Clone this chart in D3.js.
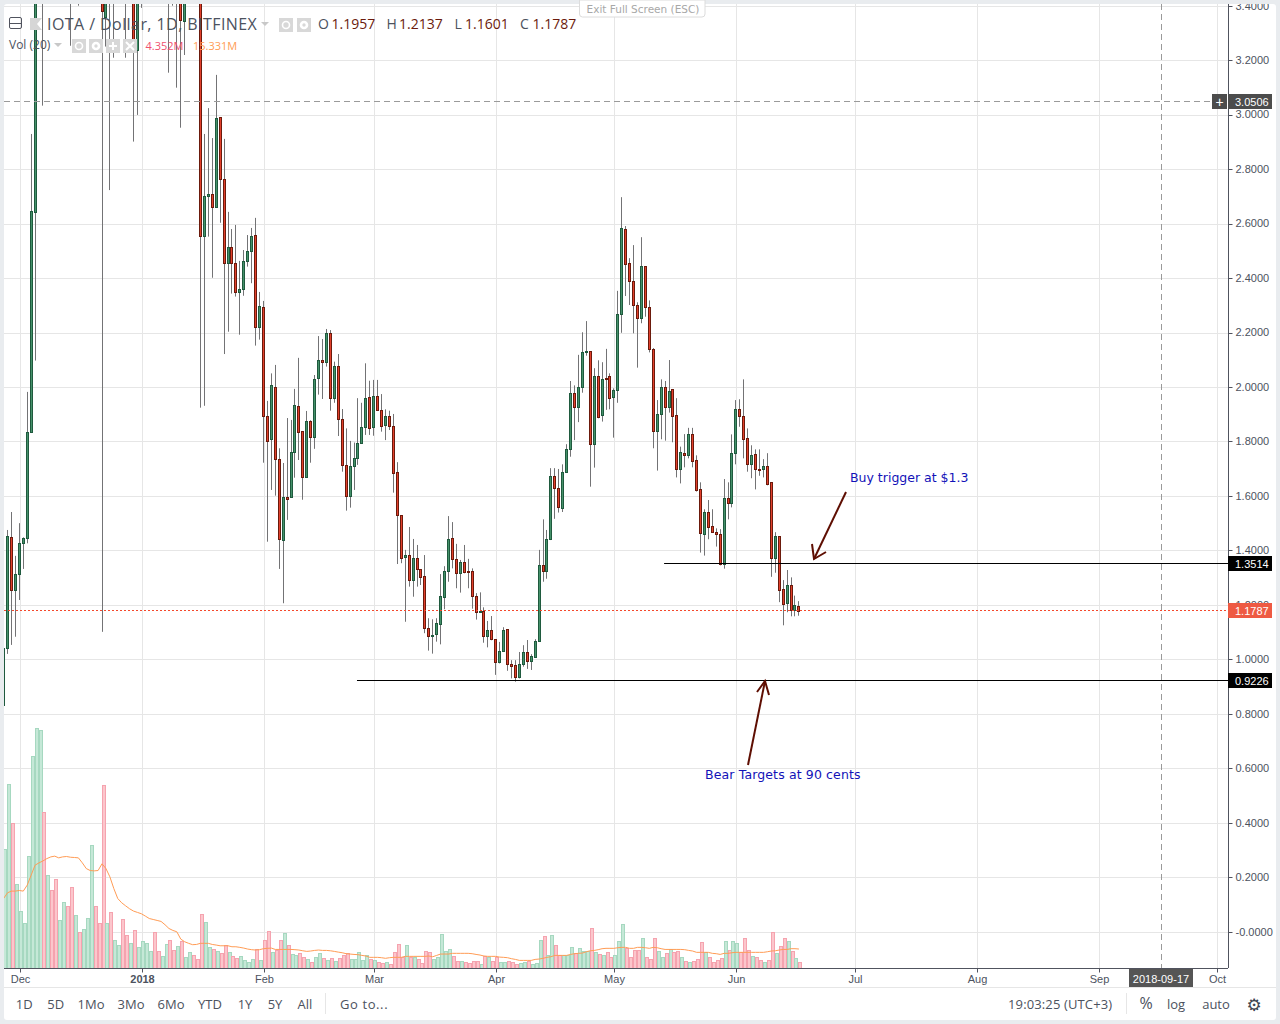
<!DOCTYPE html>
<html><head><meta charset="utf-8"><title>IOTA / Dollar</title>
<script src="https://cdn.jsdelivr.net/npm/d3@7"></script>
<style>
html,body{margin:0;padding:0;background:#e9ecef;overflow:hidden}
svg{display:block}
text{font-family:"Liberation Sans",Arial,sans-serif}
</style></head><body><div id="chart"></div>
<script>
// Daily candles, first entry is 2017-11-27. Values above 3.40 are off the visible pane and estimated.
const firstDay = "2017-11-27";
const open = [
0.832,1.041,1.448,1.254,1.312,1.426,1.445,1.834,2.643,3.75,
4.2,3.7,4.1,3.9,3.6,4.0,4.4,4.1,3.7,4.2,
3.8,4.4,5.0,5.3,4.6,4.2,3.359,3.7,3.6,3.9,
4.3,4.0,3.6,4.0,3.237,3.6,3.9,4.1,4.2,3.9,
3.7,3.9,4.0,3.6,3.5,3.7,3.345,3.6,3.7,3.6,
3.55,2.556,2.700,2.708,2.662,2.990,2.765,2.454,2.513,2.454,
2.348,2.359,2.462,2.498,2.557,2.219,2.293,1.892,1.808,1.999,
1.735,1.437,1.595,1.597,1.760,1.929,1.837,1.671,1.874,1.818,
2.032,2.098,2.093,2.197,1.961,2.076,1.881,1.713,1.601,1.709,
1.738,1.793,1.852,1.962,1.852,1.966,1.914,1.862,1.892,1.856,
1.687,1.529,1.375,1.382,1.293,1.371,1.331,1.305,1.114,1.085,
1.092,1.129,1.228,1.323,1.445,1.367,1.316,1.356,1.323,1.323,
1.232,1.175,1.179,1.085,1.107,1.074,0.989,1.030,1.110,0.982,
0.978,0.934,0.982,1.026,0.993,1.010,1.066,1.345,1.323,1.441,
1.672,1.628,1.555,1.689,1.771,1.977,1.926,1.999,2.127,2.131,
1.790,2.039,1.896,2.032,2.039,1.962,1.988,2.267,2.579,2.454,
2.388,2.300,2.252,2.443,2.293,2.138,1.837,1.900,1.999,1.926,
1.992,1.896,1.698,1.757,1.749,1.826,1.731,1.624,1.459,1.540,
1.489,1.467,1.459,1.349,1.591,1.573,1.757,1.918,1.892,1.812,
1.718,1.753,1.698,1.698,1.709,1.650,1.373,1.452,1.257,1.206,
1.272,1.180,1.1957];
const high = [
1.041,1.475,1.541,1.380,1.500,1.448,1.982,2.929,3.9,4.45,
4.4,4.3,4.3,4.1,4.2,4.6,4.7,4.3,4.5,4.4,
4.6,5.2,5.6,5.5,4.9,4.7,4.0,3.9,4.1,4.5,
4.5,4.2,4.2,4.1,3.8,4.0,4.3,4.4,4.3,4.0,
4.0,4.1,4.1,3.8,3.9,3.8,3.7,3.8,3.8,3.7,
3.65,2.929,3.024,2.914,3.146,2.990,2.911,2.643,2.580,2.595,
2.463,2.503,2.558,2.584,2.621,2.349,2.316,1.949,2.050,2.081,
1.775,1.721,1.886,1.879,1.993,2.107,1.837,1.912,1.878,2.044,
2.187,2.176,2.213,2.209,2.093,2.121,1.919,1.848,1.802,1.796,
1.959,1.942,2.087,2.023,2.026,2.026,1.974,1.918,1.913,1.901,
1.724,1.529,1.402,1.486,1.442,1.420,1.331,1.383,1.151,1.147,
1.151,1.313,1.342,1.526,1.504,1.424,1.365,1.420,1.369,1.334,
1.243,1.246,1.191,1.141,1.159,1.074,1.064,1.118,1.110,0.997,
0.997,1.027,1.052,1.071,1.019,1.074,1.402,1.514,1.475,1.702,
1.702,1.699,1.716,1.790,2.022,2.006,2.118,2.201,2.242,2.131,
2.069,2.098,2.091,2.140,2.050,1.995,2.353,2.697,2.591,2.473,
2.521,2.311,2.550,2.443,2.318,2.143,1.952,2.028,2.022,2.099,
1.992,1.959,1.781,1.827,1.850,1.850,1.749,1.650,1.551,1.585,
1.551,1.481,1.478,1.662,1.650,1.826,1.952,1.955,2.028,1.848,
1.786,1.771,1.771,1.735,1.757,1.650,1.467,1.452,1.291,1.328,
1.301,1.234,1.2137];
const low = [
0.832,1.020,1.053,1.083,1.218,1.332,1.426,1.831,2.097,3.55,
3.033,3.5,3.6,3.5,3.5,3.8,3.9,3.253,3.5,3.40,
3.7,4.2,4.7,4.3,3.9,1.101,3.250,2.723,3.209,3.7,
3.8,3.209,3.5,2.901,2.999,3.392,3.7,3.9,3.7,3.5,
3.6,3.7,3.154,3.40,3.099,2.952,3.219,3.45,3.45,3.45,
1.924,1.931,2.552,2.401,2.662,2.603,2.121,2.203,2.343,2.332,
2.192,2.335,2.442,2.381,2.152,2.174,1.722,1.432,1.622,1.601,
1.332,1.206,1.512,1.595,1.667,1.732,1.586,1.671,1.722,1.773,
1.972,1.956,2.075,1.913,1.942,1.820,1.689,1.546,1.557,1.622,
1.714,1.791,1.824,1.824,1.821,1.913,1.836,1.805,1.842,1.612,
1.350,1.353,1.138,1.267,1.230,1.267,1.273,1.096,1.032,1.021,
1.065,1.055,1.184,1.285,1.334,1.261,1.245,1.316,1.261,1.186,
1.146,1.171,1.061,1.044,1.070,0.943,0.985,1.030,0.958,0.930,
0.918,0.930,0.973,0.965,0.961,1.008,1.064,1.285,1.296,1.438,
1.516,1.539,1.541,1.689,1.744,1.805,1.871,1.979,2.115,1.634,
1.704,1.885,1.873,1.916,1.918,1.814,1.942,2.199,2.334,2.301,
2.197,2.071,2.234,2.258,2.127,1.775,1.693,1.808,1.803,1.906,
1.797,1.668,1.646,1.705,1.738,1.705,1.616,1.392,1.381,1.441,
1.464,1.414,1.345,1.333,1.514,1.558,1.716,1.854,1.738,1.689,
1.665,1.624,1.674,1.668,1.639,1.303,1.318,1.210,1.125,1.173,
1.158,1.158,1.1601];
const close = [
1.041,1.452,1.254,1.312,1.426,1.445,1.834,2.646,3.75,4.2,
3.7,4.1,3.9,3.6,4.0,4.4,4.1,3.7,4.2,3.8,
4.4,5.0,5.3,4.6,4.2,3.382,3.7,3.6,3.9,4.3,
4.0,3.6,4.0,3.237,3.6,3.9,4.1,4.2,3.9,3.7,
3.9,4.0,3.6,3.5,3.7,3.348,3.6,3.7,3.6,3.55,
2.556,2.700,2.708,2.662,2.987,2.765,2.454,2.513,2.454,2.348,
2.359,2.462,2.500,2.553,2.219,2.296,1.892,1.803,2.006,1.737,
1.441,1.595,1.590,1.760,1.933,1.834,1.671,1.874,1.818,2.028,
2.098,2.093,2.197,1.961,2.076,1.881,1.713,1.601,1.709,1.738,
1.793,1.852,1.959,1.848,1.966,1.914,1.858,1.892,1.856,1.683,
1.529,1.371,1.382,1.293,1.371,1.331,1.301,1.114,1.085,1.088,
1.132,1.232,1.323,1.441,1.367,1.316,1.356,1.320,1.320,1.232,
1.173,1.179,1.085,1.107,1.074,0.989,1.030,1.107,0.982,0.975,
0.934,0.982,1.026,0.993,1.011,1.066,1.345,1.323,1.441,1.672,
1.628,1.558,1.687,1.771,1.977,1.926,1.999,2.127,2.131,1.790,
2.039,1.889,2.028,2.029,1.959,1.988,2.267,2.583,2.451,2.388,
2.300,2.252,2.443,2.293,2.138,1.837,1.900,1.999,1.926,1.984,
1.892,1.698,1.760,1.749,1.826,1.727,1.621,1.463,1.540,1.485,
1.467,1.459,1.349,1.591,1.573,1.757,1.918,1.892,1.808,1.716,
1.749,1.698,1.695,1.709,1.643,1.373,1.452,1.254,1.202,1.272,
1.180,1.199,1.1787];
// Volume, millions
const volume = [
97.3,151.1,119.2,69.1,46.2,36.3,91.6,174.1,197.0,195.4,
128.2,76.5,64.2,73.2,38.8,53.6,50.3,65.9,42.9,29.0,
31.4,40.4,101.1,50.3,36.3,150.3,36.3,45.4,22.4,18.3,
39.6,26.5,20.0,30.6,16.7,21.6,20.0,13.4,29.0,13.4,
9.3,19.1,22.4,14.2,17.5,21.6,8.5,12.6,10.1,6.8,
43.7,37.2,16.7,15.0,13.4,11.8,18.3,12.6,9.3,7.7,
9.3,6.0,4.4,6.8,15.0,6.0,22.4,29.8,12.6,14.2,
22.4,28.2,18.3,10.9,10.1,11.8,8.5,6.8,4.4,8.5,
11.8,7.7,6.3,7.7,5.2,7.7,10.1,11.8,6.8,6.8,
12.6,6.0,10.1,6.8,6.0,4.4,3.6,4.4,2.7,12.6,
19.1,8.5,18.3,8.5,8.5,6.8,3.6,13.4,12.6,6.8,
8.5,27.3,13.4,15.0,9.3,5.2,5.2,4.4,3.6,5.2,
5.2,2.7,9.3,8.5,5.2,8.5,4.4,4.4,5.2,4.4,
2.7,3.6,4.4,5.2,2.7,3.6,22.4,25.7,10.1,26.5,
18.3,10.1,10.1,10.1,16.7,11.8,15.9,13.4,13.4,32.2,
12.6,10.9,10.1,12.6,8.5,10.1,21.6,35.5,15.9,8.5,
14.2,14.2,24.1,8.5,6.8,24.1,13.4,8.5,11.8,15.0,
12.6,13.4,8.5,5.2,4.4,5.2,6.8,20.8,12.6,8.5,
4.4,6.0,7.7,21.6,14.2,21.6,20.0,12.6,24.1,14.2,
9.3,8.5,6.0,4.4,6.0,29.0,11.8,17.5,24.1,21.6,
13.4,7.7,4.352];
// Vol (20) moving-average line, millions
const volumeAvg = [
56.8,61.5,62.9,62.9,63.4,62.9,67.8,76.0,84.2,86.1,
87.7,89.6,91.0,91.6,90.2,91.0,91.3,90.7,90.5,90.2,
86.1,81.4,79.8,79.5,79.8,85.3,81.4,74.6,65.0,56.8,
53.3,50.8,48.4,46.5,45.4,44.3,42.4,40.4,39.6,38.8,
38.0,35.3,32.2,30.6,29.5,23.5,21.3,20.0,18.9,19.1,
20.0,20.0,20.0,19.1,18.6,18.0,18.0,18.0,17.2,17.2,
16.7,16.1,15.3,14.8,14.5,14.8,15.6,15.9,16.1,15.0,
15.0,15.0,15.0,15.0,14.8,14.5,13.9,13.4,13.7,14.2,
14.5,14.2,14.2,13.9,13.4,12.8,12.3,11.5,11.2,10.9,
10.7,10.1,9.6,8.5,8.5,8.5,8.2,7.7,8.2,8.5,
8.5,8.5,9.3,9.3,9.3,9.3,9.3,9.3,9.6,9.0,
10.1,11.2,11.2,11.2,11.8,11.8,11.8,11.8,11.8,11.5,
10.9,10.4,9.6,9.3,9.3,9.3,8.7,8.5,8.2,7.4,
6.8,6.0,6.0,6.0,6.0,6.8,7.1,7.7,8.5,9.0,
10.1,10.1,10.1,10.1,10.9,11.5,11.8,12.0,13.1,13.9,
14.2,14.8,15.6,15.9,15.9,15.9,16.4,16.7,16.7,15.9,
15.9,16.7,16.7,16.4,15.9,16.7,16.4,15.6,15.0,15.0,
15.0,15.0,15.0,14.8,14.2,13.7,12.6,12.6,12.6,12.6,
11.8,11.5,10.9,11.8,11.8,12.3,12.6,12.6,12.6,12.6,
12.6,12.6,12.6,12.6,13.1,13.7,13.9,14.5,15.0,15.0,
15.6,15.6,15.331];

const priceTicks = [3.4,3.2,3.0,2.8,2.6,2.4,2.2,2.0,1.8,1.6,1.4,1.2,1.0,0.8,0.6,0.4,0.2,0];
const priceLabels = ["3.4000","3.2000","3.0000","2.8000","2.6000","2.4000","2.2000","2.0000","1.8000","1.6000","1.4000","1.2000","1.0000","0.8000","0.6000","0.4000","0.2000","-0.0000"];
const monthTicks = ["2017-12-01","2018-01-01","2018-02-01","2018-03-01","2018-04-01","2018-05-01","2018-06-01","2018-07-01","2018-08-01","2018-09-01","2018-10-01"];
const monthLabels = ["Dec","2018","Feb","Mar","Apr","May","Jun","Jul","Aug","Sep","Oct"];
const rangeButtons = ["1D","5D","1Mo","3Mo","6Mo","YTD","1Y","5Y","All"];
const rangeCenters = [24.3,55.7,91,131,171,210,245,275,305];

const priceLevels = [{v:1.3514,from:"2018-05-13T12:00:00Z"},{v:0.9226,from:"2018-02-24T12:00:00Z"}];
const crossPrice = 3.0506, crossDate = "2018-09-17", lastPrice = 1.1787;

const W=1280,H=1024,L=4,T=4,R=1228,B=968;
const GRID="#e6e6e6", AXIS="#50535e", TXT="#4c525e", UIFONT="'Open Sans'";
const parse=d3.utcParse("%Y-%m-%d");
const day0=parse(firstDay);
const candles=open.map((o,k)=>({date:d3.utcDay.offset(day0,k),o,h:high[k],l:low[k],c:close[k],v:volume[k],a:volumeAvg[k]}));

const x=d3.scaleUtc().domain([parse("2017-12-01"),parse("2018-10-01")]).range([20.33,1217.3]);
const y=d3.scaleLinear().domain([0,3.4]).range([931.7,5.7]);
const yVol=d3.scaleLinear().domain([0,4.352]).range([967.7,962.4]);
const snap=d=>Math.floor(x(d)-1)+0.5;

const svg=d3.select("#chart").append("svg").attr("width",W).attr("height",H);
svg.append("defs").append("clipPath").attr("id","pane").append("rect").attr("x",L).attr("y",T).attr("width",R-L).attr("height",B-T);
svg.append("rect").attr("x",L).attr("y",T).attr("width",W-8).attr("height",H-8).attr("rx",3).attr("fill","#fff");

// grid
const grid=svg.append("g").attr("clip-path","url(#pane)").attr("stroke",GRID).attr("stroke-width",1);
grid.selectAll(".h").data(priceTicks).join("line").attr("x1",L).attr("x2",R)
  .attr("y1",d=>Math.round(y(d))+.5).attr("y2",d=>Math.round(y(d))+.5);
grid.selectAll(".v").data(monthTicks).join("line").attr("y1",T).attr("y2",B)
  .attr("x1",d=>Math.floor(x(parse(d)))+.5).attr("x2",d=>Math.floor(x(parse(d)))+.5);

const pane=svg.append("g").attr("clip-path","url(#pane)");
const up=d=>d.c>=d.o;

// volume
pane.append("g").selectAll("rect").data(candles).join("rect")
  .attr("x",d=>snap(d.date)).attr("width",3)
  .attr("y",d=>Math.round(yVol(d.v))+.5)
  .attr("height",d=>Math.max(0,Math.round(yVol(0))-Math.round(yVol(d.v))))
  .attr("fill",d=>up(d)?"#c5e8d7":"#fcc6cc")
  .attr("stroke",d=>up(d)?"#a6d8c0":"#f5a3af").attr("stroke-width",1);
pane.append("path").datum(candles)
  .attr("d",d3.line().x(d=>x(d.date)-1).y(d=>yVol(d.a)))
  .attr("fill","none").attr("stroke","#ff9c55").attr("stroke-width",1);

// candles
const cg=pane.append("g");
cg.selectAll(".w").data(candles).join("line")
  .attr("x1",d=>snap(d.date)).attr("x2",d=>snap(d.date))
  .attr("y1",d=>y(d.h)).attr("y2",d=>y(d.l)).attr("stroke","#737375").attr("stroke-width",1);
cg.selectAll(".b").data(candles).join("rect")
  .attr("x",d=>snap(d.date)-1).attr("width",2)
  .attr("y",d=>Math.round(y(Math.max(d.o,d.c)))+.5)
  .attr("height",d=>Math.max(1,Math.round(y(Math.min(d.o,d.c)))-Math.round(y(Math.max(d.o,d.c)))))
  .attr("fill",d=>up(d)?"#45916a":"#e2402c")
  .attr("stroke",d=>up(d)?"#1f5a3e":"#6b1a0c").attr("stroke-width",1);

// last price line
pane.append("line").attr("x1",L).attr("x2",R).attr("y1",Math.round(y(lastPrice))-.5).attr("y2",Math.round(y(lastPrice))-.5)
  .attr("stroke","#f4482c").attr("stroke-width",1).attr("stroke-dasharray","2 2");

// support / resistance
pane.selectAll(".lvl").data(priceLevels).join("line")
  .attr("x1",d=>x(d3.isoParse(d.from))).attr("x2",R)
  .attr("y1",d=>Math.floor(y(d.v))+.5).attr("y2",d=>Math.floor(y(d.v))+.5)
  .attr("stroke","#000").attr("stroke-width",1.2);

// crosshair
const xCross=snap(parse(crossDate));
pane.append("line").attr("x1",L).attr("x2",1212).attr("y1",Math.round(y(crossPrice))+.5).attr("y2",Math.round(y(crossPrice))+.5)
  .attr("stroke","#9a9a9a").attr("stroke-dasharray","6 4");
pane.append("line").attr("x1",xCross).attr("x2",xCross).attr("y1",T).attr("y2",B)
  .attr("stroke","#9a9a9a").attr("stroke-dasharray","6 4");

// arrows
const ARROW="#5e0e02";
const arrows=[{p:[[846,492],[814,559]],h:[[812,544],[814,559],[826,552]]},{p:[[748,765],[765,681]],h:[[757,692],[765,681],[769,695]]}];
const aline=d3.line();
arrows.forEach(a=>{
  svg.append("path").attr("d",aline(a.p)).attr("stroke",ARROW).attr("stroke-width",2).attr("fill","none");
  svg.append("path").attr("d",aline(a.h)).attr("stroke",ARROW).attr("stroke-width",2).attr("fill","none");
});
svg.append("text").attr("x",850).attr("y",482).text("Buy trigger at $1.3").attr("fill","#1212b8").style("font-family","'DejaVu Sans'").style("font-size","12.5px");
svg.append("text").attr("x",705).attr("y",779).text("Bear Targets at 90 cents").attr("fill","#1212b8").style("font-family","'DejaVu Sans'").style("font-size","12.5px").style("letter-spacing","0.13px");

// axes
const yAxis=svg.append("g").attr("transform",`translate(${R+.5},0)`)
  .call(d3.axisRight(y).tickValues(priceTicks).tickSize(4).tickPadding(3).tickFormat((d,i)=>priceLabels[i]));
const xAxis=svg.append("g").attr("transform",`translate(0,${B+.5})`)
  .call(d3.axisBottom(x).tickValues(monthTicks.map(parse)).tickSize(4).tickPadding(3).tickFormat((d,i)=>monthLabels[i]));
[yAxis,xAxis].forEach(g=>{
  g.selectAll("path").attr("stroke",AXIS).attr("d",g===yAxis?`M0,${T}V${B}`:`M${L},0H${R}`);
  g.selectAll("line").attr("stroke",AXIS);
  g.selectAll("text").attr("fill",TXT).style("font-size","11px").style("font-family","'Liberation Sans'");
});
xAxis.selectAll(".tick").attr("transform",d=>`translate(${Math.floor(x(d))+.5},0)`);
yAxis.selectAll(".tick").attr("transform",d=>`translate(0,${Math.round(y(d))+.5})`);
xAxis.selectAll(".tick").filter((d,i)=>monthLabels[i]==="2018").select("text").style("font-weight","bold");
yAxis.selectAll("text").attr("x",7).attr("y",d=>y(d)+.3-(Math.round(y(d))+.5));

// right-side labels
function priceTag(v,fill,txt){
  const c=Math.round(y(v)-.3);
  svg.append("rect").attr("x",1228).attr("y",c-7).attr("width",44).attr("height",15).attr("fill",fill);
  svg.append("text").attr("x",1235).attr("y",c+5).text(txt).attr("fill","#fff").style("font-size","11px");
}
priceTag(1.3514,"#000","1.3514");
priceTag(0.9226,"#000","0.9226");
priceTag(lastPrice,"#ee5a43","1.1787");
priceTag(crossPrice,"#4c4c4c","3.0506");
svg.append("rect").attr("x",1212).attr("y",94).attr("width",15).attr("height",15).attr("fill","#4c4c4c");
svg.append("text").attr("x",1219.5).attr("y",106.5).attr("text-anchor","middle").text("+").attr("fill","#fff").style("font-size","14px");

// date tag
svg.append("rect").attr("x",1129).attr("y",969).attr("width",64).attr("height",18).attr("fill","#555");
svg.append("text").attr("x",1161).attr("y",983).attr("text-anchor","middle").text(crossDate).attr("fill","#fff").style("font-size","11px");

// separators and chrome
svg.append("line").attr("x1",L).attr("x2",W-4).attr("y1",987.5).attr("y2",987.5).attr("stroke",GRID);
svg.append("line").attr("x1",325.5).attr("x2",325.5).attr("y1",993).attr("y2",1014).attr("stroke",GRID);
svg.append("line").attr("x1",1126.5).attr("x2",1126.5).attr("y1",993).attr("y2",1014).attr("stroke",GRID);
svg.append("rect").attr("x",0).attr("y",0).attr("width",W).attr("height",T).attr("fill","#e9ecef");

// Exit full screen tab
svg.append("path").attr("d","M579.5,0V14a3,3 0 0 0 3,3H702a3,3 0 0 0 3,-3V0Z").attr("fill","#fff").attr("stroke","#dcdcdc");
svg.append("text").attr("x",643).attr("y",13).attr("text-anchor","middle").text("Exit Full Screen (ESC)").attr("fill","#a8a8a8").style("font-family","'DejaVu Sans'").style("font-size","10.5px");

// legend
const UI="#4c525e";
svg.append("rect").attr("x",9.5).attr("y",17.5).attr("width",12).attr("height",11).attr("rx",1.5).attr("fill","none").attr("stroke","#50535e");
svg.append("line").attr("x1",10).attr("x2",21).attr("y1",23.5).attr("y2",23.5).attr("stroke","#50535e");
svg.append("rect").attr("x",30).attr("y",18).attr("width",12).attr("height",12).attr("fill","#d6d6d6");
svg.append("path").attr("d","M42,18L37,24L42,30Z").attr("fill","#fff");
svg.append("text").attr("x",47).attr("y",30).text("IOTA / Dollar, 1D, BITFINEX").attr("fill",UI).style("font-size","16px").style("font-family",UIFONT).style("letter-spacing","0.43px");
svg.append("path").attr("d","M261,22H269L265,26Z").attr("fill","#c8c8c8");
function icon(px,py,kind){
  svg.append("rect").attr("x",px).attr("y",py).attr("width",14).attr("height",14).attr("fill","#d8d8d8");
  if(kind==="eye") svg.append("circle").attr("cx",px+7).attr("cy",py+7).attr("r",3.5).attr("fill","none").attr("stroke","#fff").attr("stroke-width",1.6);
  if(kind==="gear") svg.append("circle").attr("cx",px+7).attr("cy",py+7).attr("r",3).attr("fill","none").attr("stroke","#fff").attr("stroke-width",2.6);
  if(kind==="plus") svg.append("path").attr("d",`M${px+3},${py+7}H${px+11}M${px+7},${py+3}V${py+11}`).attr("stroke","#fff").attr("stroke-width",2);
  if(kind==="x") svg.append("path").attr("d",`M${px+3},${py+3}L${px+11},${py+11}M${px+11},${py+3}L${px+3},${py+11}`).attr("stroke","#fff").attr("stroke-width",2);
}
icon(279,18,"eye");icon(297,18,"gear");
const ohlc=[["O",318,331.5,"1.1957"],["H",386.5,399,"1.2137"],["L",454.5,465,"1.1601"],["C",520,532.5,"1.1787"]];
ohlc.forEach(([k,px,vx,v])=>{
  svg.append("text").attr("x",px).attr("y",29).text(k).attr("fill",UI).style("font-size","14px").style("font-family",UIFONT);
  svg.append("text").attr("x",vx).attr("y",29).text(v).attr("fill","#6b1a0c").style("font-size","14px").style("font-family",UIFONT);
});
svg.append("text").attr("x",9).attr("y",49).text("Vol (20)").attr("fill",UI).style("font-size","12px").style("font-family",UIFONT);
svg.append("path").attr("d","M54,43H62L58,47Z").attr("fill","#c8c8c8");
icon(72,39,"eye");icon(89,39,"gear");icon(106,39,"plus");icon(123,39,"x");
svg.append("text").attr("x",145.5).attr("y",50).text("4.352M").attr("fill","#f0506e").style("font-size","11px").style("font-family",UIFONT);
svg.append("text").attr("x",193).attr("y",50).text("15.331M").attr("fill","#ff9c55").style("font-size","11px").style("font-family",UIFONT);

// bottom toolbar
svg.append("g").selectAll("text").data(rangeButtons).join("text").attr("x",(d,i)=>rangeCenters[i]).attr("y",1009).attr("text-anchor","middle").text(d=>d)
  .attr("fill",UI).style("font-family",UIFONT).style("font-size","13px");
[["Go to...",340,"start",.6],["19:03:25 (UTC+3)",1008,"start",.13],["%",1146,"middle",0],["log",1176,"middle",0],["auto",1216,"middle",0]].forEach(([t,px,a,ls])=>{
  svg.append("text").attr("x",px).attr("y",1009).attr("text-anchor",a).text(t).attr("fill",UI).style("font-family",UIFONT).style("font-size",t==="%"?"16px":"13px").style("letter-spacing",ls+"px");
});
svg.append("text").attr("x",1254).attr("y",1011).attr("text-anchor","middle").text("\u2699").attr("fill","#3d4450").style("font-family","'DejaVu Sans'").style("font-size","17px");
</script></body></html>
